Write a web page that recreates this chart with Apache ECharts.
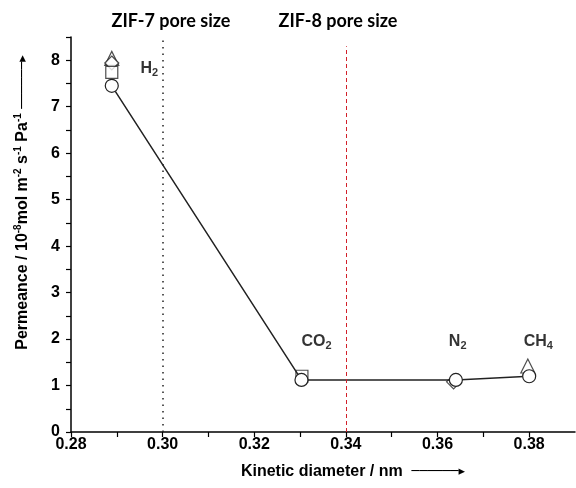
<!DOCTYPE html>
<html>
<head>
<meta charset="utf-8">
<script src="https://cdn.jsdelivr.net/npm/echarts@6/dist/echarts.min.js"></script>
<style>html,body{margin:0;padding:0;background:#fff}#c{width:576px;height:488px}</style>
</head>
<body>
<div id="c"></div>
<script>
// Data
const gases = ['H2', 'CO2', 'N2', 'CH4'];
const circleX = [0.2889, 0.3303, 0.3640, 0.3800];
const circleY = [7.45, 1.12, 1.12, 1.20];
const squarePts = [[0.2889, 7.74], [0.3304, 1.20]];
const diamondPts = [[0.2889, 7.94], [0.3635, 1.08]];
const trianglePts = [[0.2889, 8.04], [0.3797, 1.42]];
const poreX = [0.30, 0.34];
const poreNames = ['ZIF-7 pore size', 'ZIF-8 pore size'];
const gasLabelPos = [[0.2971, 7.83], [0.3336, 1.94], [0.3644, 1.94], [0.3820, 1.94]];
const xTicks = [0.28, 0.30, 0.32, 0.34, 0.36, 0.38];

const chart = echarts.init(document.getElementById('c'), null, {renderer: 'canvas'});
const bold = {fontFamily: 'Liberation Sans', fontWeight: 'bold', color: '#000'};
const mk = (sym, size) => ({
  type: 'scatter', symbol: sym, symbolSize: size,
  itemStyle: {color: '#fff', borderColor: '#222', borderWidth: 1.2}, z: 3
});
const gasRich = {
  n: {fontFamily: 'Liberation Sans', fontWeight: 'bold', fontSize: 16, color: '#000', lineHeight: 20, verticalAlign: 'middle'},
  s: {fontFamily: 'Liberation Sans', fontWeight: 'bold', fontSize: 11, color: '#000', lineHeight: 20, verticalAlign: 'bottom', padding: [9, 0, 0, 0]}
};
const gasFmt = g => {
  const m = g.match(/^([A-Z]+)(\d)$/);
  return '{n|' + m[1] + '}{s|' + m[2] + '}';
};

chart.setOption({
  animation: false,
  grid: {left: 71, right: 1, top: 37, bottom: 56},
  xAxis: {
    type: 'value', min: 0.28, max: 0.39, interval: 0.01,
    axisLine: {lineStyle: {color: '#000', width: 1.5}},
    axisTick: {show: true, length: 5, lineStyle: {color: '#000', width: 1.2}},
    splitLine: {show: false},
    axisLabel: Object.assign({fontSize: 16, margin: 5,
      showMaxLabel: false,
      formatter: v => {
        const hit = xTicks.find(t => Math.abs(t - v) < 1e-6);
        return hit !== undefined ? hit.toFixed(2) : '';
      }}, bold),
    name: 'Kinetic diameter / nm  {a|──────▸}',
    nameLocation: 'middle', nameGap: 32,
    nameTextStyle: Object.assign({fontSize: 16, padding: [0, 0, 0, 60],
      rich: {a: {fontFamily: 'DejaVu Sans', fontSize: 13, color: '#000'}}}, bold)
  },
  yAxis: {
    type: 'value', min: 0, max: 8.5, interval: 0.5,
    axisLine: {show: true, lineStyle: {color: '#000', width: 1.5}},
    axisTick: {show: true, length: 5, lineStyle: {color: '#000', width: 1.2}},
    splitLine: {show: false},
    axisLabel: Object.assign({fontSize: 16, margin: 11,
      formatter: v => (Math.abs(v - Math.round(v)) < 1e-6 && v <= 8) ? String(Math.round(v)) : ''}, bold),
    name: 'Permeance / 10{p|-8}mol m{p|-2} s{p|-1} Pa{p|-1} {a|──────▸}',
    nameLocation: 'middle', nameGap: 39, nameRotate: 90,
    nameTextStyle: {fontFamily: 'Liberation Sans', fontWeight: 'bold', fontSize: 16, color: '#000',
      padding: [0, 0, 0, 64],
      rich: {
        p: {fontFamily: 'Liberation Sans', fontWeight: 'bold', fontSize: 10, color: '#000', verticalAlign: 'top', padding: [0, 0, 9, 0]},
        a: {fontFamily: 'DejaVu Sans', fontSize: 13, color: '#000'}
      }}
  },
  series: [
    Object.assign(mk('triangle', 14), {data: trianglePts, z: 2}),
    Object.assign(mk('diamond', 14), {data: diamondPts, z: 2}),
    Object.assign(mk('rect', 12), {data: squarePts, z: 2}),
    {
      type: 'line', symbol: 'circle', symbolSize: 13, z: 4,
      data: circleX.map((x, i) => [x, circleY[i]]),
      lineStyle: {color: '#222', width: 1.5},
      itemStyle: {color: '#fff', borderColor: '#222', borderWidth: 1.2}
    },
    {
      type: 'scatter', symbolSize: 0, z: 5,
      data: gases.map((g, i) => ({value: gasLabelPos[i], name: g})),
      label: {show: true, position: 'inside', color: '#000', formatter: p => gasFmt(p.name), rich: gasRich}
    },
    {
      type: 'line', data: [], z: 1,
      markLine: {
        silent: true, symbol: 'none', animation: false,
        label: {show: false},
        data: [
          [{coord: [poreX[0], 0], lineStyle: {color: '#222', type: [1.5, 5], width: 1.5}}, {coord: [poreX[0], 8.5]}],
          [{coord: [poreX[1], 0], lineStyle: {color: '#d2202a', type: [4, 3], width: 1}}, {coord: [poreX[1], 8.3]}]
        ]
      }
    }
  ],
  graphic: poreNames.map((t, i) => ({
    type: 'text', z: 10,
    x: [171, 338][i], y: 21,
    style: {text: t, fontFamily: 'Lato', fontWeight: 'bold', fontSize: 18, fill: '#000', align: 'center', verticalAlign: 'middle'}
  }))
});
</script>
</body>
</html>
